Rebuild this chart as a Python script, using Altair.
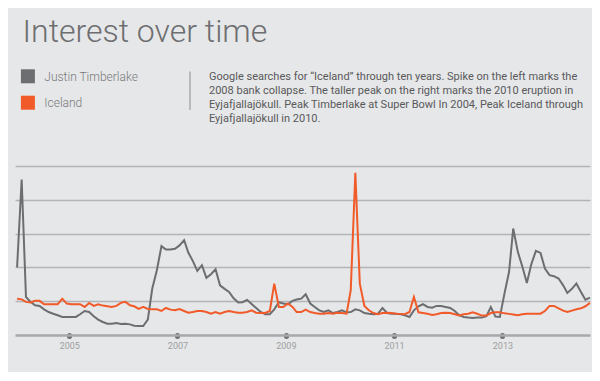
import altair as alt
import pandas as pd

# ---- data (monthly, Jan 2004 .. Aug 2014) ----
timberlake = [40, 92, 22.5, 19.6, 17.6, 17.2, 15.2, 13.6, 12.6, 11.7,
              10.7, 10.7, 10.7, 10.7, 12.3, 14.2, 13.6, 11.1, 9.1, 7.7,
              6.7, 6.7, 7.1, 6.5, 6.7, 6.3, 5.5, 5.3, 5.3, 9.1,
              27.5, 38.3, 52.6, 50.6, 50.6, 51, 53, 56.1, 48.8, 43.7,
              37.9, 41.3, 33.8, 36, 38.9, 29.4, 27.3, 25.5, 21.7, 19.2,
              19.4, 20.8, 18.4, 16, 13.6, 12.3, 12.3, 15.2, 19.4, 18.6,
              18.2, 20.2, 21, 21.5, 24.1, 18.6, 16.6, 14.6, 13.6, 14.6,
              13, 13.6, 14.6, 13.4, 13.6, 15.2, 14.6, 13, 12.6, 12.3,
              12.6, 16, 13, 12.6, 12.6, 12.3, 11.7, 10.7, 14.6, 17,
              18.2, 16.6, 16.2, 17.2, 17.2, 16.6, 16, 14.2, 11.7, 10.7,
              10.3, 10.1, 10.3, 10.3, 11.1, 16.6, 10.9, 10.7, 24.5, 37.4,
              63, 49.2, 40.7, 30.8, 41.9, 49.8, 48.6, 39.3, 35.4, 34.8,
              33.4, 29.4, 24.9, 27.3, 30.4, 25.5, 20.9, 22.1]
iceland = [21.5, 21.1, 19.6, 19.2, 20.2, 20.2, 18.2, 18.2, 18.2, 18.2,
           21.5, 18.6, 18.2, 18.2, 18.2, 16.6, 19, 17.2, 18.2, 17.4,
           17, 16.6, 17.2, 19, 19.6, 17.6, 17, 15.4, 16.6, 15.4,
           15.2, 15.2, 14.2, 16, 15, 14.6, 15.4, 14.2, 13.2, 13.6,
           14.2, 14.2, 13.6, 12.6, 13.6, 12.6, 13.6, 14.2, 13.6, 13.2,
           13.2, 13.6, 14.6, 13.2, 13, 13, 14.2, 30.4, 16.6, 16.6,
           18.6, 16.6, 13.6, 13.6, 15, 13.6, 13, 12.6, 12.6, 13,
           12.6, 13.2, 13, 12.6, 26.5, 96, 30.4, 17.2, 14.6, 13,
           12.3, 13, 13.2, 13, 12.6, 12.5, 12.3, 13.6, 22.5, 13.4,
           13, 12.6, 11.9, 12.3, 13, 13.2, 13, 12.3, 11.5, 12.3,
           12.6, 13.4, 12.6, 11.5, 11.5, 13, 13.4, 13.4, 12.8, 12.5,
           12.1, 11.7, 12.3, 12.6, 12.6, 12.6, 12.6, 14.2, 17.2, 17.2,
           15.8, 14.4, 13.6, 14.4, 15.2, 15.8, 17, 19]
series_names = ["Justin Timberlake", "Iceland"]
series_colors = ["#6d6e71", "#f15a29"]
tick_years = [2005, 2007, 2009, 2011, 2013]
title_text = "Interest over time"
paragraph = [
    "Google searches for \u201cIceland\u201d through ten years. Spike on the left marks the",
    "2008 bank collapse. The taller peak on the right marks the 2010 eruption in",
    "Eyjafjallaj\u00f6kull. Peak Timberlake at Super Bowl In 2004, Peak Iceland through",
    "Eyjafjallaj\u00f6kull in 2010.",
]

dates = pd.date_range("2004-01-01", periods=len(timberlake), freq="MS") + pd.Timedelta(days=14)
df = pd.concat([
    pd.DataFrame({"date": dates, "value": timberlake, "series": series_names[0]}),
    pd.DataFrame({"date": dates, "value": iceland, "series": series_names[1]}),
])

BG = "#e6e7e8"
FONT = "Roboto"

lines = alt.Chart(df).mark_line(strokeWidth=2).encode(
    x=alt.X("date:T",
            scale=alt.Scale(domain=[alt.DateTime(year=2004, month=1, date=1),
                                    alt.DateTime(year=2014, month=8, date=15)]),
            axis=alt.Axis(values=[alt.DateTime(year=y, month=1, date=1) for y in tick_years],
                          format="%Y", grid=False, title=None,
                          domainColor="#a7a9ac", domainWidth=2.5,
                          tickColor="#6d6e71", tickWidth=5, tickSize=1, tickCap="round",
                          labelColor="#9d9fa2", labelFontSize=9, labelFont=FONT,
                          labelPadding=5)),
    y=alt.Y("value:Q", scale=alt.Scale(domain=[0, 100]),
            axis=alt.Axis(values=[20, 40, 60, 80, 100], labels=False, ticks=False,
                          domain=False, title=None, grid=True,
                          gridColor="#b3b4b6", gridWidth=1.5)),
    color=alt.Color("series:N", scale=alt.Scale(domain=series_names, range=series_colors),
                    legend=None),
)

one = pd.DataFrame({"k": [0]})

layers = [lines]
layers.append(alt.Chart(one).mark_text(
    align="left", baseline="alphabetic", fontSize=32, font=FONT, fontWeight=300,
    color="#6d6e71").encode(x=alt.value(7.5), y=alt.value(-124), text=alt.value(title_text)))

for i, (name, col) in enumerate(zip(series_names, series_colors)):
    layers.append(alt.Chart(one).mark_square(size=196, opacity=1, color=col).encode(
        x=alt.value(12.9), y=alt.value(-89.7 + 26.4 * i)))
    layers.append(alt.Chart(one).mark_text(
        align="left", baseline="alphabetic", fontSize=12, font=FONT, fontWeight=300,
        color="#77787b").encode(x=alt.value(29.3), y=alt.value(-85.5 + 26 * i),
                                text=alt.value(name)))

layers.append(alt.Chart(one).mark_rule(color="#8a8c8e", strokeWidth=1).encode(
    x=alt.value(175), y=alt.value(-94.5), y2=alt.value(-56)))

for i, ln in enumerate(paragraph):
    layers.append(alt.Chart(one).mark_text(
        align="left", baseline="alphabetic", fontSize=11, font=FONT,
        color="#58595b").encode(x=alt.value(194), y=alt.value(-86 + 14 * i),
                                text=alt.value(ln)))

chart = alt.layer(*layers).properties(
    width=575, height=169,
    autosize=alt.AutoSizeParams(type="none"),
    padding={"left": 7, "top": 158, "right": 2, "bottom": 37},
    background=BG,
).configure_view(stroke=None)

chart.save("out.html", embed_options={"renderer": "svg", "actions": False})
